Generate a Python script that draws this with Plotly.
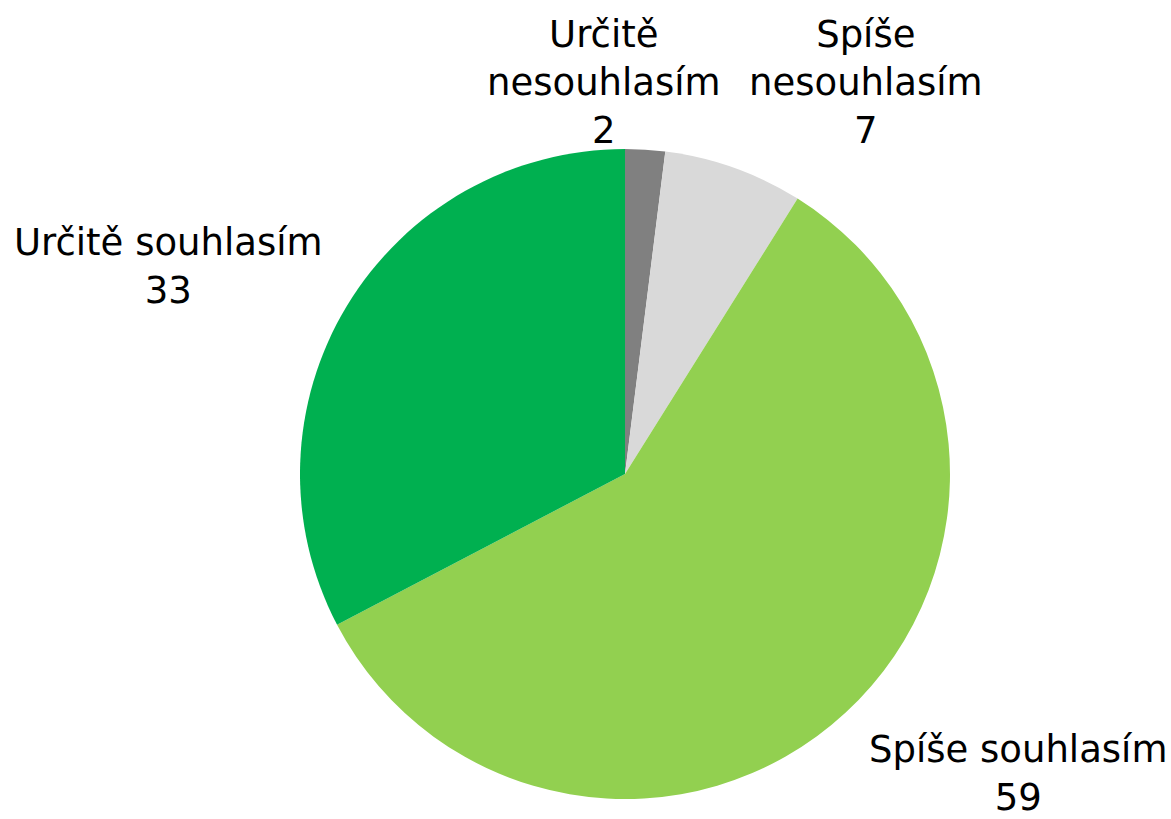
import plotly.graph_objects as go

categories = ["Určitě nesouhlasím", "Spíše nesouhlasím", "Spíše souhlasím", "Určitě souhlasím"]
values = [2, 7, 59, 33]
colors = ["#808080", "#d9d9d9", "#92d050", "#00b050"]
label_texts = ["Určitě<br>nesouhlasím<br>2", "Spíše<br>nesouhlasím<br>7",
               "Spíše souhlasím<br>59", "Určitě souhlasím<br>33"]
label_pos = [(604, 83), (866, 83), (1018, 773), (168, 267)]  # px centers

W, H = 1171, 819
cx, cy, r = 625, 474, 325

fig = go.Figure(go.Pie(
    labels=categories, values=values, sort=False, direction="clockwise",
    rotation=0, marker=dict(colors=colors, line=dict(width=0)),
    textinfo="none", hoverinfo="label+value", showlegend=False,
    domain=dict(x=[(cx - r) / W, (cx + r) / W], y=[1 - (cy + r) / H, 1 - (cy - r) / H]),
))

for txt, (px, py) in zip(label_texts, label_pos):
    fig.add_annotation(text=txt, x=px / W, y=1 - py / H, xref="paper", yref="paper",
                       xanchor="center", yanchor="middle", showarrow=False,
                       font=dict(family="DejaVu Sans", size=37, color="#000000"))

fig.update_layout(width=W, height=H, margin=dict(l=0, r=0, t=0, b=0),
                  paper_bgcolor="white", plot_bgcolor="white")
fig.write_html("out.html", config={"displayModeBar": False},
               post_script="document.body.style.margin='0';")
